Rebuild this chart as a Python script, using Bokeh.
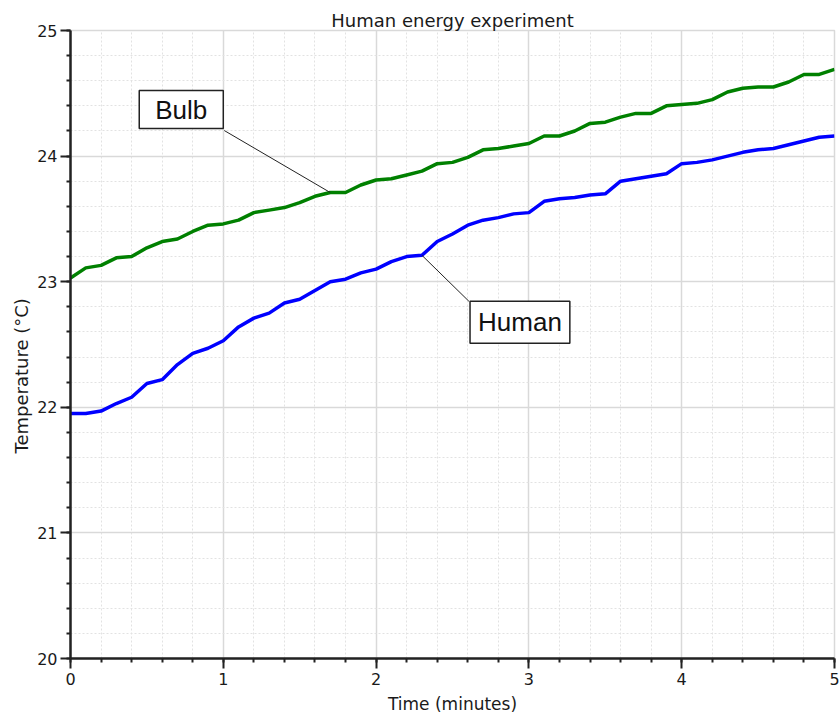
from bokeh.plotting import figure
from bokeh.models import Range1d, SingleIntervalTicker, Label, Title
from bokeh.embed import file_html
from bokeh.resources import INLINE

# ---------------- data ----------------
time_min = [0.0, 0.1, 0.2, 0.3, 0.4, 0.5, 0.6, 0.7, 0.8, 0.9,
            1.0, 1.1, 1.2, 1.3, 1.4, 1.5, 1.6, 1.7, 1.8, 1.9,
            2.0, 2.1, 2.2, 2.3, 2.4, 2.5, 2.6, 2.7, 2.8, 2.9,
            3.0, 3.1, 3.2, 3.3, 3.4, 3.5, 3.6, 3.7, 3.8, 3.9,
            4.0, 4.1, 4.2, 4.3, 4.4, 4.5, 4.6, 4.7, 4.8, 4.9, 5.0]

bulb_temp = [23.03, 23.11, 23.13, 23.19, 23.20, 23.27, 23.32, 23.34, 23.40, 23.45,
             23.46, 23.49, 23.55, 23.57, 23.59, 23.63, 23.68, 23.71, 23.71, 23.77,
             23.81, 23.82, 23.85, 23.88, 23.94, 23.95, 23.99, 24.05, 24.06, 24.08,
             24.10, 24.16, 24.16, 24.20, 24.26, 24.27, 24.31, 24.34, 24.34, 24.40,
             24.41, 24.42, 24.45, 24.51, 24.54, 24.55, 24.55, 24.59, 24.65, 24.65, 24.69]

human_temp = [21.95, 21.95, 21.97, 22.03, 22.08, 22.19, 22.22, 22.34, 22.43, 22.47,
              22.53, 22.64, 22.71, 22.75, 22.83, 22.86, 22.93, 23.00, 23.02, 23.07,
              23.10, 23.16, 23.20, 23.21, 23.32, 23.38, 23.45, 23.49, 23.51, 23.54,
              23.55, 23.64, 23.66, 23.67, 23.69, 23.70, 23.80, 23.82, 23.84, 23.86,
              23.94, 23.95, 23.97, 24.00, 24.03, 24.05, 24.06, 24.09, 24.12, 24.15, 24.16]

series_names = ["Bulb", "Human"]
bulb_anchor_index = 17    # t = 1.7 min
human_anchor_index = 23   # t = 2.3 min

title_text = "Human energy experiment"
x_label = "Time (minutes)"
y_label = "Temperature  (°C)"
x_start, x_end = 0, 5
y_start, y_end = 20, 25

# ---------------- layout ----------------
W, H = 840, 717
BL, BR, BT, BB = 70, 6, 30, 59
FW, FH = W - BL - BR, H - BT - BB
PX_X = FW / (x_end - x_start)
PX_Y = FH / (y_end - y_start)

TICK_FONT = "DejaVu Sans"
BOX_FONT = "Liberation Sans"
TEXT_COLOR = "#1a1a1a"

p = figure(width=W, height=H, output_backend="svg", toolbar_location=None,
           x_range=Range1d(x_start, x_end), y_range=Range1d(y_start, y_end),
           min_border_left=BL, min_border_right=BR, min_border_top=BT,
           min_border_bottom=BB)
p.background_fill_color = "white"
p.border_fill_color = "white"
p.outline_line_color = "#d9d9d9"
p.outline_line_width = 1.5

# title
p.title.text = title_text
p.title.align = "center"
p.title.text_font = TICK_FONT
p.title.text_font_size = "18px"
p.title.text_font_style = "normal"
p.title.text_color = TEXT_COLOR
p.title.standoff = 0

for ax in (p.xaxis[0], p.yaxis[0]):
    ax.ticker = SingleIntervalTicker(interval=1, num_minor_ticks=5)
    ax.axis_line_color = "#222222"
    ax.axis_line_width = 2.5
    ax.major_tick_line_color = "#222222"
    ax.major_tick_line_width = 2
    ax.major_tick_out = 10
    ax.major_tick_in = 0
    ax.minor_tick_line_color = "#222222"
    ax.minor_tick_line_width = 2
    ax.minor_tick_out = 4
    ax.minor_tick_in = 0
    ax.major_label_text_font = TICK_FONT
    ax.major_label_text_font_size = "16px"
    ax.major_label_text_color = TEXT_COLOR
p.xaxis[0].major_label_standoff = 4
p.yaxis[0].major_label_standoff = 3

# x-axis title
p.xaxis[0].axis_label = x_label
p.xaxis[0].axis_label_text_font = TICK_FONT
p.xaxis[0].axis_label_text_font_size = "17px"
p.xaxis[0].axis_label_text_font_style = "normal"
p.xaxis[0].axis_label_text_color = TEXT_COLOR
p.xaxis[0].axis_label_standoff = 6

# y-axis title as a side title (placed lower than centre, as in the reference)
p.add_layout(Title(text=y_label, align="left", offset=205, standoff=5,
                   text_font=TICK_FONT, text_font_size="18px", text_font_style="normal",
                   text_color=TEXT_COLOR), "left")

for g in (p.xgrid[0], p.ygrid[0]):
    g.ticker = SingleIntervalTicker(interval=1, num_minor_ticks=5)
    g.grid_line_color = "#d9d9d9"
    g.grid_line_width = 1.5
    g.minor_grid_line_color = "#e2e2e2"
    g.minor_grid_line_width = 1
    g.minor_grid_line_dash = "2 2"

# curves
p.line(time_min, bulb_temp, line_color="#008000", line_width=3.5)
p.line(time_min, human_temp, line_color="#0000ff", line_width=3.5)

# callouts
def callout(idx, series, text, box_dx, box_dy, corner_dx, corner_dy, pad):
    ax_, ay_ = time_min[idx], series[idx]
    cx = ax_ + corner_dx / PX_X
    cy = ay_ + corner_dy / PX_Y
    p.segment(x0=[ax_], y0=[ay_], x1=[cx], y1=[cy], line_color="#222222", line_width=1)
    p.add_layout(Label(x=ax_, y=ay_, x_offset=box_dx, y_offset=box_dy, text=text,
                       text_font=BOX_FONT, text_font_size="26px",
                       text_color="#111111", text_align="center", text_baseline="middle",
                       background_fill_color="white", border_line_color="#222222",
                       border_line_width=1.5, padding=pad))

callout(bulb_anchor_index, bulb_temp, series_names[0], -149, 83, -106, 62, (16, 4))
callout(human_anchor_index, human_temp, series_names[1], 98, -67, 47, -46, (8, 6))

open("out.html", "w").write(file_html(p, INLINE))
